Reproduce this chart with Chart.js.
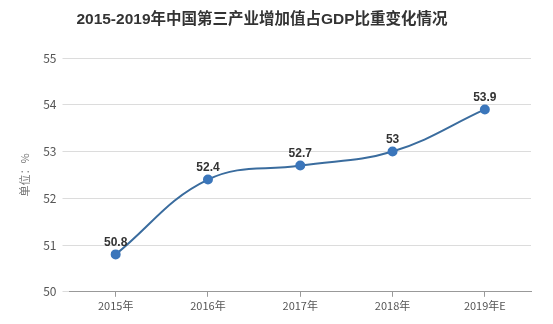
<!DOCTYPE html>
<html>
<head>
<meta charset="utf-8">
<script src="https://cdn.jsdelivr.net/npm/chart.js@4/dist/chart.umd.min.js"></script>
<style>
  html, body { margin: 0; padding: 0; background: #fff; }
  #wrap { width: 553px; height: 324px; position: relative; }
</style>
</head>
<body>
<div id="wrap"><canvas id="lineChart"></canvas></div>
<script>
const chartTitle = '2015-2019年中国第三产业增加值占GDP比重变化情况';
const years = ['2015年', '2016年', '2017年', '2018年', '2019年E'];
const shares = [50.8, 52.4, 52.7, 53, 53.9];
const yTicks = [50, 51, 52, 53, 54, 55];

// draws the value above each point
const valueLabels = {
    id: 'valueLabels',
    afterDatasetsDraw(chart) {
        const ctx = chart.ctx;
        const meta = chart.getDatasetMeta(0);
        ctx.save();
        ctx.font = 'bold 12px "Liberation Sans", Arial, sans-serif';
        ctx.fillStyle = '#333';
        ctx.textAlign = 'center';
        ctx.textBaseline = 'bottom';
        meta.data.forEach((pt, i) => {
            ctx.fillText(String(shares[i]), pt.x, pt.y - 6);
        });
        ctx.restore();
    }
};

// title sits a little left of centre in the original, so draw it by hand
const topTitle = {
    id: 'topTitle',
    afterDraw(chart) {
        const ctx = chart.ctx;
        ctx.save();
        ctx.font = 'bold 15.5px "Liberation Sans", "Noto Sans CJK SC", sans-serif';
        ctx.fillStyle = '#333';
        ctx.textAlign = 'center';
        ctx.textBaseline = 'middle';
        ctx.fillText(chartTitle, 262, 20);
        ctx.restore();
    }
};

const ctx = document.getElementById('lineChart').getContext('2d');
new Chart(ctx, {
    type: 'line',
    data: {
        labels: years,
        datasets: [{
            data: shares,
            borderColor: '#3a6c9e',
            borderWidth: 2,
            tension: 0.4,
            pointBackgroundColor: '#3b76bb',
            pointBorderColor: '#3b76bb',
            pointRadius: 4,
            fill: false
        }]
    },
    options: {
        responsive: true,
        maintainAspectRatio: false,
        animation: false,
        layout: { padding: { left: 14, right: 22, top: 58, bottom: 10 } },
        plugins: {
            legend: { display: false },
            tooltip: { enabled: false },
            title: { display: false }
        },
        scales: {
            x: {
                offset: true,
                grid: {
                    display: true,
                    drawOnChartArea: false,
                    drawTicks: true,
                    tickLength: 5,
                    color: '#999'
                },
                border: { color: '#999' },
                ticks: {
                    color: '#555',
                    font: { family: '"Noto Sans CJK SC", sans-serif', size: 11 },
                    padding: 2,
                    maxRotation: 0
                }
            },
            y: {
                min: 50,
                max: 55,
                afterBuildTicks(axis) {
                    axis.ticks = yTicks.map(v => ({ value: v }));
                },
                grid: {
                    color: '#dcdcdc',
                    tickLength: 7
                },
                border: { display: false },
                ticks: {
                    color: '#555',
                    font: { family: '"Noto Sans CJK SC", sans-serif', size: 12 },
                    padding: 6
                },
                title: {
                    display: true,
                    text: '单位：%',
                    color: '#777',
                    font: { family: '"Noto Sans CJK SC", sans-serif', size: 11 },
                    padding: { bottom: 6 }
                }
            }
        }
    },
    plugins: [valueLabels, topTitle]
});
</script>
</body>
</html>
